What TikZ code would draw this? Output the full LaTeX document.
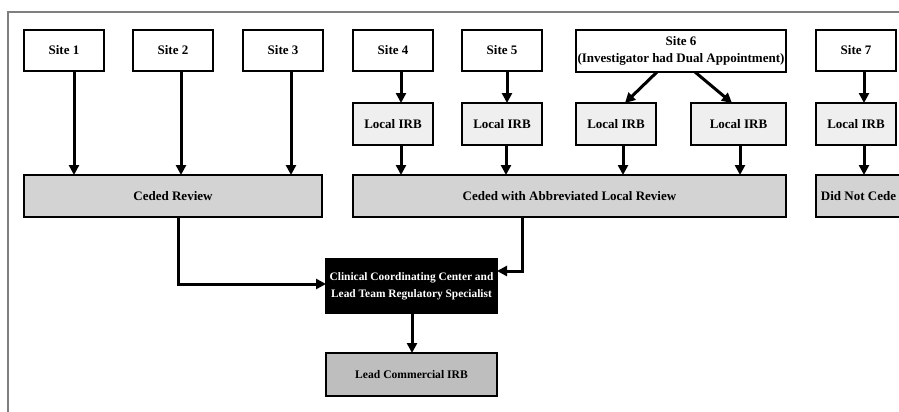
\documentclass[tikz,border=0pt]{standalone}
\usepackage{fontspec}
\setmainfont{Liberation Serif}
\usetikzlibrary{arrows.meta}
\definecolor{lirb}{HTML}{EFEFEF}
\definecolor{ceded}{HTML}{D3D3D3}
\definecolor{leadc}{HTML}{BEBEBE}
\definecolor{frame}{HTML}{7F7F7F}
\tikzset{
  box/.style={draw=black, line width=2pt, inner sep=1pt, outer sep=0pt, align=center,
    font=\fontsize{13}{14}\selectfont\bfseries},
  sitebox/.style={box, fill=white},
  irbbox/.style={box, fill=lirb},
  cedebox/.style={box, fill=ceded},
  ccbox/.style={box, fill=black, text=white, font=\fontsize{11.4}{17}\selectfont\bfseries},
  leadbox/.style={box, fill=leadc, font=\fontsize{11.6}{14}\selectfont\bfseries},
  arr/.style={line width=3pt, -{Triangle[length=10pt,width=10pt]}},
}
\begin{document}
\begin{tikzpicture}[x=1pt,y=-1pt]
\useasboundingbox (0,0) rectangle (899,412);
\fill[white] (0,0) rectangle (899,412);
\draw[frame, line width=2pt] (8,413) -- (8,12) -- (900,12);

% sites
\node[sitebox, minimum width=80, minimum height=41] (s1) at (64,50.5) {Site 1};
\node[sitebox, minimum width=80, minimum height=41] (s2) at (173,50.5) {Site 2};
\node[sitebox, minimum width=80, minimum height=41] (s3) at (283,50.5) {Site 3};
\node[sitebox, minimum width=80, minimum height=41] (s4) at (393,50.5) {Site 4};
\node[sitebox, minimum width=80, minimum height=41] (s5) at (502,50.5) {Site 5};
\node[sitebox, minimum width=210, minimum height=42, inner sep=0pt, font=\fontsize{13}{17.5}\selectfont\bfseries] (s6) at (681,51) {Site 6\\(Investigator had Dual Appointment)};
\node[sitebox, minimum width=80, minimum height=41] (s7) at (856,50.5) {Site 7};

% local IRBs
\node[irbbox, minimum width=80, minimum height=42] (l4) at (393,124) {Local IRB};
\node[irbbox, minimum width=80, minimum height=42] (l5) at (502,124) {Local IRB};
\node[irbbox, minimum width=80, minimum height=42] (l6a) at (616,124) {Local IRB};
\node[irbbox, minimum width=95, minimum height=42] (l6b) at (738.5,124) {Local IRB};
\node[irbbox, minimum width=80, minimum height=42] (l7) at (856,124) {Local IRB};

% review boxes
\node[cedebox, minimum width=298, minimum height=42] (cr) at (173,196) {Ceded Review};
\node[cedebox, minimum width=433, minimum height=42] (ca) at (569.5,196) {Ceded with Abbreviated Local Review};
\node[cedebox, minimum width=92, minimum height=42, inner sep=0pt, align=left] (dn) at (862,196) {Did Not Cede\hspace*{7pt}};

% center
\node[ccbox, minimum width=171, minimum height=54] (cc) at (411.5,286) {Clinical Coordinating Center and\\Lead Team Regulatory Specialist};
\node[leadbox, minimum width=171, minimum height=43] (lc) at (411.5,374.5) {Lead Commercial IRB};

% arrows sites -> ceded review
\draw[arr] (s1.south -| 74,0) -- (cr.north -| 74,0);
\draw[arr] (s2.south -| 181,0) -- (cr.north -| 181,0);
\draw[arr] (s3.south -| 291,0) -- (cr.north -| 291,0);

\draw[arr] (s4.south -| 401,0) -- (l4.north -| 401,0);
\draw[arr] (l4.south -| 401,0) -- (ca.north -| 401,0);
\draw[arr] (s5.south -| 507,0) -- (l5.north -| 507,0);
\draw[arr] (l5.south -| 506,0) -- (ca.north -| 506,0);
\draw[arr] (s6.south -| 657,0) -- (l6a.north -| 625,0);
\draw[arr] (s6.south -| 695,0) -- (l6b.north -| 732,0);
\draw[arr] (l6a.south -| 623,0) -- (ca.north -| 623,0);
\draw[arr] (l6b.south -| 740,0) -- (ca.north -| 740,0);
\draw[arr] (s7.south -| 864,0) -- (l7.north -| 864,0);
\draw[arr] (l7.south -| 864,0) -- (dn.north -| 864,0);

% to center
\draw[arr] (cr.south -| 178,0) |- (cc.west |- 0,284);
\draw[arr] (ca.south -| 522,0) |- (cc.east |- 0,271);
\draw[arr] (cc.south -| 412,0) -- (lc.north -| 412,0);
\end{tikzpicture}
\end{document}
